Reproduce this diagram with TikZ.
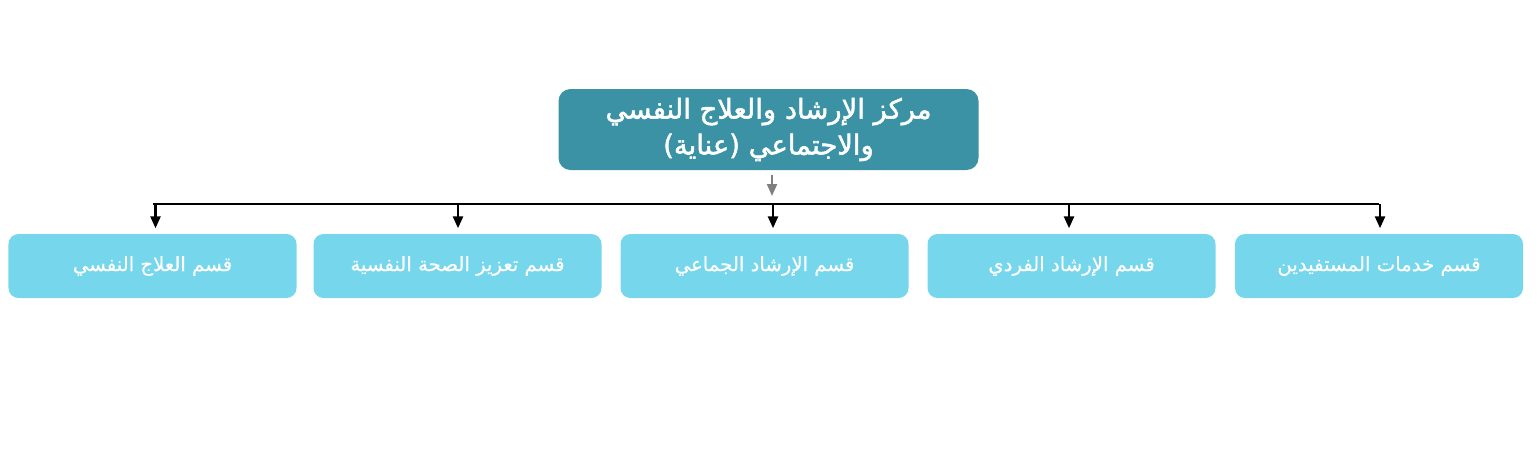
\documentclass[tikz,border=0pt]{standalone}
\usepackage{fontspec}
\newfontfamily\arabicfont[Script=Arabic,FakeBold=0.4]{DejaVu Sans}
\newfontfamily\arabicboldfont[Script=Arabic,FakeBold=1.8]{DejaVu Sans}
\TeXXeTstate=1
\usetikzlibrary{arrows.meta}
\tikzset{>={Triangle[width=1mm,length=1.2mm]}}
\definecolor{centerteal}{RGB}{58,146,164}
\definecolor{unitblue}{RGB}{118,215,236}
\tikzstyle{centerbox}=[fill=centerteal,rounded corners=1.2mm,minimum width=4.2cm,minimum height=0.81cm,inner ysep=1pt,text=white,align=center,font=\arabicboldfont\fontsize{7.8}{10.2}\selectfont]
\tikzstyle{unitbox}=[fill=unitblue,rounded corners=1mm,minimum width=2.88cm,minimum height=0.64cm,text=white,font=\arabicfont\fontsize{5.6}{7}\selectfont]
\tikzstyle{busline}=[draw=black,line width=0.25mm]
\tikzstyle{grayline}=[draw=gray,line width=0.2mm]

\begin{document}
\begin{tikzpicture}
  \useasboundingbox (0,0) rectangle (15.37,4.72);

  \node[centerbox] (center) at (7.685,3.425)
    {\beginR مركز الإرشاد والعلاج النفسي\endR\\\beginR والاجتماعي (عناية)\endR};

  \foreach \i/\x/\name in {1/1.525/{قسم العلاج النفسي},
                           2/4.575/{قسم تعزيز الصحة النفسية},
                           3/7.645/{قسم الإرشاد الجماعي},
                           4/10.715/{قسم الإرشاد الفردي},
                           5/13.79/{قسم خدمات المستفيدين}}
    \node[unitbox] (unit\i) at (\x,2.06) {\beginR\name\endR};

  \coordinate (bus) at (7.72,2.68);
  \draw[grayline,->] ([yshift=-0.4mm]center.south -| bus) -- ([yshift=0.8mm]bus);
  \draw[busline] (bus -| unit1) -- (bus -| unit5);
  \foreach \i/\dx in {1/0.03,2/0.005,3/0.085,4/-0.025,5/0.01}
    \draw[busline,->] ([xshift=\dx cm]bus -| unit\i) -- ([xshift=\dx cm,yshift=0.5mm]unit\i.north);
\end{tikzpicture}
\end{document}
